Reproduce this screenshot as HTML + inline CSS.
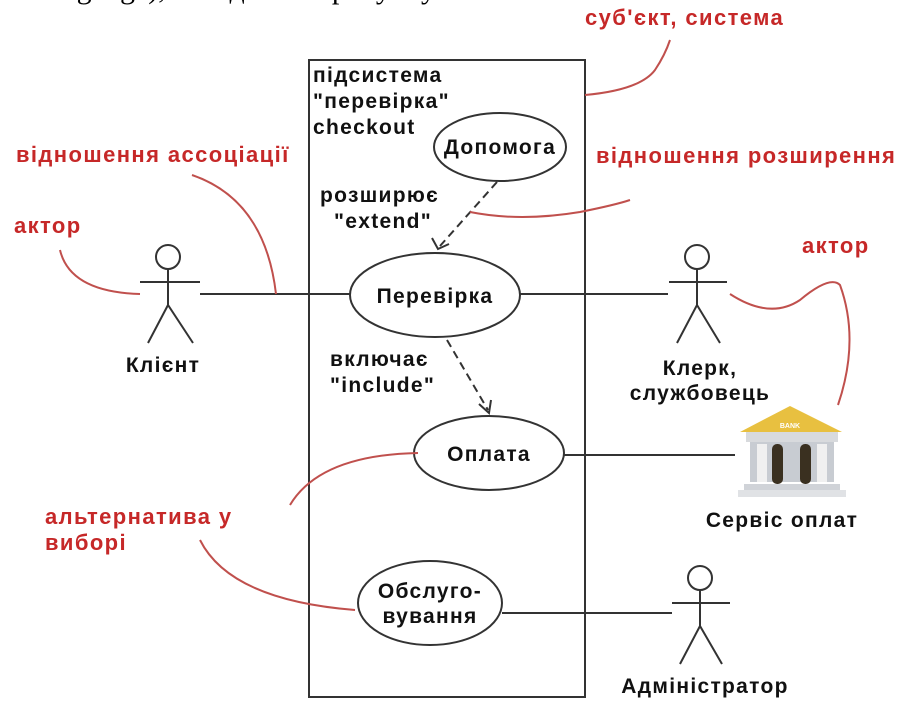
<!DOCTYPE html><html><head><meta charset="utf-8"><style>body{margin:0;background:#fff}svg{display:block}text{font-family:"Liberation Sans",sans-serif;font-weight:bold}</style></head><body>
<svg width="918" height="722" viewBox="0 0 918 722" xmlns="http://www.w3.org/2000/svg">
<text x="30" y="-2" style="font-family:'Liberation Serif',serif;font-weight:normal" font-size="30">Language), наведена на рисунку</text>
<g fill="none" stroke="#333" stroke-width="2">
<rect x="309" y="60" width="276" height="637"/>
<ellipse cx="500" cy="147" rx="66" ry="34"/>
<ellipse cx="435" cy="295" rx="85" ry="42"/>
<ellipse cx="489" cy="453" rx="75" ry="37"/>
<ellipse cx="430" cy="603" rx="72" ry="42"/>
<line x1="200" y1="294" x2="350" y2="294"/>
<line x1="520" y1="294" x2="668" y2="294"/>
<line x1="564" y1="455" x2="735" y2="455"/>
<line x1="502" y1="613" x2="672" y2="613"/>
<line x1="497" y1="182" x2="440" y2="246" stroke-dasharray="8,5"/>
<polyline points="432,238 438,249 449,244"/>
<line x1="447" y1="340" x2="488" y2="410" stroke-dasharray="8,5"/>
<polyline points="479,404 489,413 491,400"/>
<circle cx="168" cy="257" r="12"/><line x1="168" y1="269" x2="168" y2="305"/><line x1="140" y1="282" x2="200" y2="282"/><polyline points="148,343 168,305 193,343"/>
<circle cx="697" cy="257" r="12"/><line x1="697" y1="269" x2="697" y2="305"/><line x1="669" y1="282" x2="727" y2="282"/><polyline points="677,343 697,305 720,343"/>
<circle cx="700" cy="578" r="12"/><line x1="700" y1="590" x2="700" y2="626"/><line x1="672" y1="603" x2="730" y2="603"/><polyline points="680,664 700,626 722,664"/>
</g>
<g fill="none" stroke="#c0504d" stroke-width="2">
<path d="M60 250 Q70 292 140 294"/>
<path d="M192 175 Q265 200 276 294"/>
<path d="M470 212 Q520 222 580 212 Q615 205 630 200"/>
<path d="M585 95 Q640 90 655 70 Q665 55 670 40"/>
<path d="M730 294 Q770 320 800 300 Q830 275 840 285 Q860 340 838 405"/>
<path d="M418 453 Q320 455 290 505"/>
<path d="M200 540 Q230 600 355 610"/>
</g>
<g fill="#111" font-size="21" letter-spacing="1.3" text-anchor="middle">
<text x="500" y="154">Допомога</text>
<text x="435" y="303">Перевірка</text>
<text x="489" y="461">Оплата</text>
<text x="430" y="598">Обслуго-</text><text x="430" y="623">вування</text>
<text x="163" y="372">Клієнт</text>
<text x="700" y="375">Клерк,</text><text x="700" y="400">службовець</text>
<text x="782" y="527">Сервіс оплат</text>
<text x="705" y="693">Адміністратор</text>
</g>
<g fill="#111" font-size="21" letter-spacing="1.3">
<text x="313" y="82">підсистема</text><text x="313" y="108">"перевірка"</text><text x="313" y="134">checkout</text>
<text x="320" y="202">розширює</text><text x="334" y="228">"extend"</text>
<text x="330" y="366">включає</text><text x="330" y="392">"include"</text>
</g>
<g fill="#c62828" font-size="22" letter-spacing="1.4">
<text x="585" y="25">суб'єкт, система</text>
<text x="16" y="162">відношення ассоціації</text>
<text x="14" y="233">актор</text>
<text x="596" y="163">відношення розширення</text>
<text x="802" y="253">актор</text>
<text x="45" y="524">альтернатива у</text><text x="45" y="550">виборі</text>
</g>
<g>
<polygon points="740,432 790,406 842,432" fill="#e8c040"/>
<rect x="746" y="432" width="92" height="10" fill="#d8dadd"/>
<rect x="750" y="442" width="84" height="40" fill="#c8ccd2"/>
<rect x="757" y="444" width="10" height="38" fill="#f0f0f0"/>
<rect x="817" y="444" width="10" height="38" fill="#f0f0f0"/>
<rect x="772" y="444" width="11" height="40" rx="5" fill="#3a3020"/>
<rect x="800" y="444" width="11" height="40" rx="5" fill="#3a3020"/>
<rect x="744" y="484" width="96" height="6" fill="#d0d3d8"/>
<rect x="738" y="490" width="108" height="7" fill="#e0e2e5"/>
<text x="790" y="428" font-size="7" fill="#fff" text-anchor="middle">BANK</text>
</g>
</svg></body></html>
